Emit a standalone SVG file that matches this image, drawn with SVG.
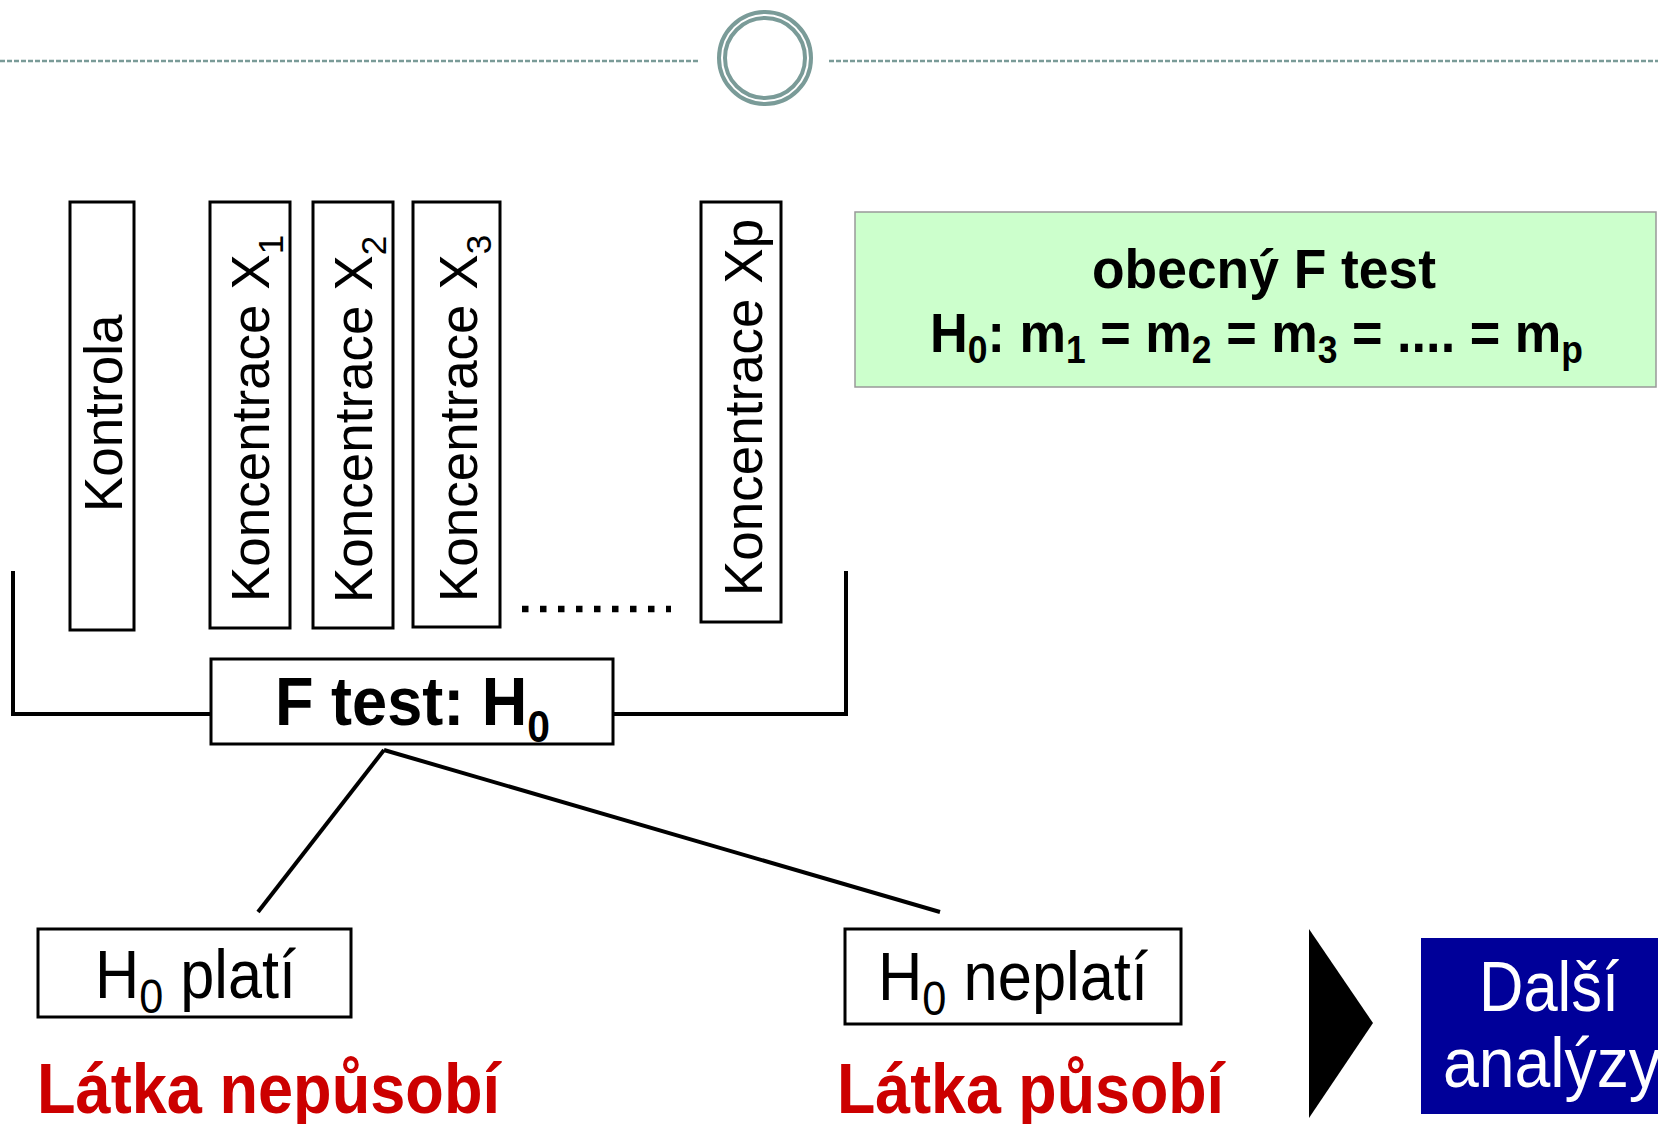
<svg xmlns="http://www.w3.org/2000/svg" width="1658" height="1124" viewBox="0 0 1658 1124">
<style>
text{font-family:"Liberation Sans",Arial,sans-serif;fill:#000}
.box{fill:#fff;stroke:#000;stroke-width:3}
.bold{font-weight:bold}
.vt{font-size:53px}
.red{fill:#cc0000;font-weight:bold;font-size:70px}
.conn{stroke:#000;stroke-width:4;fill:none}
.deco{stroke:#7a9b98;fill:none}
.wt{fill:#fff}
</style>
<rect width="1658" height="1124" fill="#fff"/>
<g id="header">
<line class="deco" x1="0" y1="61" x2="700" y2="61" stroke-width="2.5" stroke-dasharray="5 2"/>
<line class="deco" x1="829" y1="61" x2="1658" y2="61" stroke-width="2.5" stroke-dasharray="5 2"/>
<circle class="deco" cx="765" cy="58" r="46" stroke-width="4"/>
<circle class="deco" cx="765" cy="58" r="40" stroke-width="4"/>
</g>
<g id="connectors">
<polyline class="conn" points="13,571 13,714 211,714"/>
<polyline class="conn" points="613,714 846,714 846,571"/>
<line class="conn" x1="384" y1="750" x2="258" y2="912"/>
<line class="conn" x1="384" y1="750" x2="940" y2="912"/>
<line x1="522" y1="609" x2="671" y2="609" stroke="#000" stroke-width="6.5" stroke-dasharray="6.5 11.5"/>
</g>
<g id="kontrola">
<rect class="box" x="70" y="202" width="64" height="428"/>
<text class="vt" transform="translate(122,512) rotate(-90)">Kontrola</text>
</g>
<g id="konc-x1">
<rect class="box" x="210" y="202" width="80" height="426"/>
<text class="vt" transform="translate(269,602) rotate(-90)">Koncentrace X<tspan font-size="35" dy="14">1</tspan></text>
</g>
<g id="konc-x2">
<rect class="box" x="313" y="202" width="80" height="426"/>
<text class="vt" transform="translate(372,603) rotate(-90)">Koncentrace X<tspan font-size="35" dy="14">2</tspan></text>
</g>
<g id="konc-x3">
<rect class="box" x="413" y="202" width="87" height="425"/>
<text class="vt" transform="translate(477,602) rotate(-90)">Koncentrace X<tspan font-size="35" dy="14">3</tspan></text>
</g>
<g id="konc-xp">
<rect class="box" x="701" y="202" width="80" height="420"/>
<text class="vt" transform="translate(762,596) rotate(-90)">Koncentrace Xp</text>
</g>
<g id="ftest">
<rect class="box" x="211" y="659" width="402" height="85" stroke-width="2"/>
<text class="bold" x="275" y="725" font-size="68" textLength="275" lengthAdjust="spacingAndGlyphs">F test: H<tspan font-size="44" dy="17">0</tspan></text>
</g>
<g id="obecny">
<rect x="855" y="212" width="801" height="175" fill="#ccffcc" stroke="#999" stroke-width="1.5"/>
<text class="bold" x="1092" y="288" font-size="56" textLength="344" lengthAdjust="spacingAndGlyphs">obecný F test</text>
<text class="bold" x="930" y="352" font-size="56" textLength="653" lengthAdjust="spacingAndGlyphs">H<tspan font-size="38" dy="11">0</tspan><tspan dy="-11">: m</tspan><tspan font-size="38" dy="11">1</tspan><tspan dy="-11"> = m</tspan><tspan font-size="38" dy="11">2</tspan><tspan dy="-11"> = m</tspan><tspan font-size="38" dy="11">3</tspan><tspan dy="-11"> = .... = m</tspan><tspan font-size="38" dy="11">p</tspan></text>
</g>
<g id="h0-plati">
<rect class="box" x="38" y="929" width="313" height="88" stroke-width="2"/>
<text x="95" y="998" font-size="68" textLength="201" lengthAdjust="spacingAndGlyphs">H<tspan font-size="48" dy="15">0</tspan><tspan dy="-15"> platí</tspan></text>
</g>
<g id="h0-neplati">
<rect class="box" x="845" y="929" width="336" height="95" stroke-width="2"/>
<text x="878" y="1000" font-size="68" textLength="270" lengthAdjust="spacingAndGlyphs">H<tspan font-size="48" dy="15">0</tspan><tspan dy="-15"> neplatí</tspan></text>
</g>
<g id="latka-nepusobi">
<text class="red" x="37" y="1113" textLength="463" lengthAdjust="spacingAndGlyphs">Látka nepůsobí</text>
</g>
<g id="latka-pusobi">
<text class="red" x="837" y="1113" textLength="387" lengthAdjust="spacingAndGlyphs">Látka působí</text>
</g>
<g id="arrow">
<polygon points="1309,929 1373,1023 1309,1118" fill="#000"/>
</g>
<g id="dalsi">
<rect x="1421" y="938" width="237" height="176" fill="#000099"/>
<text class="wt" x="1479" y="1011" font-size="70" textLength="140" lengthAdjust="spacingAndGlyphs">Další</text>
<text class="wt" x="1443" y="1087" font-size="70" textLength="218" lengthAdjust="spacingAndGlyphs">analýzy</text>
</g>
</svg>
